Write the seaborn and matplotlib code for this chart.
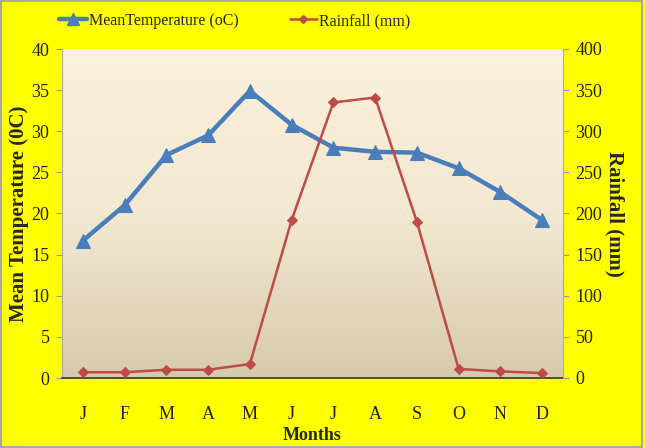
import numpy as np
import pandas as pd
import matplotlib
matplotlib.use("Agg")
import matplotlib.pyplot as plt
import seaborn as sns
from matplotlib.lines import Line2D
from matplotlib.patches import Rectangle
from matplotlib.colors import LinearSegmentedColormap

months = ["J", "F", "M", "A", "M", "J", "J", "A", "S", "O", "N", "D"]
temperature = [16.7, 21.0, 27.1, 29.5, 34.9, 30.8, 28.0, 27.5, 27.4, 25.5, 22.6, 19.2]
rainfall = [7, 7, 10, 10, 17, 192, 335, 341, 190, 11, 8, 6]
temp_label = "MeanTemperature (oC)"
rain_label = "Rainfall (mm)"

sns.set_style("white")
plt.rcParams['font.family'] = ['Liberation Serif', 'DejaVu Serif']

df = pd.DataFrame({"idx": np.arange(len(months)), "month": months,
                   "temp": temperature, "rain": rainfall})

fig = plt.figure(figsize=(6.45, 4.48), dpi=100, facecolor="#FFFF00")
ax = fig.add_axes([62/645, 1-378/448, (563-62)/645, (378-49)/448])
ax.set_facecolor("none")

# gradient background of plot area
cmap = LinearSegmentedColormap.from_list("bg", ["#FBF1DC", "#F3E9D2", "#D6CAAE"])
grad = np.linspace(0, 1, 256).reshape(-1, 1)
ax.imshow(grad, extent=[0, 1, 0, 1], transform=ax.transAxes, cmap=cmap,
          aspect="auto", zorder=0, origin="upper")

blue = "#4A7EBB"
red = "#BE4B48"
sns.lineplot(data=df, x="idx", y="temp", ax=ax, color=blue, linewidth=3.2,
             marker="^", markersize=10, markeredgecolor=blue, zorder=3, legend=False)
ax.set_xlim(-0.5, len(months) - 0.5)
ax.set_ylim(0, 40)
ax.set_yticks(np.arange(0, 41, 5))

ax2 = ax.twinx()
sns.lineplot(data=df, x="idx", y="rain", ax=ax2, color=red, linewidth=1.8,
             marker="D", markersize=5.5, markeredgecolor=red, zorder=3, legend=False)
ax2.set_ylim(0, 400)
ax2.set_yticks(np.arange(0, 401, 50))
ax2.set_xlim(-0.5, len(months) - 0.5)

ax.set_xticks(np.arange(len(months)))
ax.set_xticklabels(months)
ax.set_xticks(np.arange(-0.5, len(months)), minor=True)
ax.tick_params(axis="x", which="major", length=0, labelsize=13, pad=20, labelcolor="#222222")
ax.tick_params(axis="x", which="minor", length=5, color="#333333", direction="out")
ax.tick_params(axis="y", length=4, color="#999999", labelsize=13, labelcolor="#222222", pad=5)
ax2.tick_params(axis="y", length=4, color="#999999", labelsize=13, labelcolor="#222222", pad=5)

ax.set_xlabel("Months", fontsize=13, fontweight="bold", labelpad=3)
ax.set_ylabel("Mean Temperature (0C)", fontsize=15, fontweight="bold", labelpad=2)
ax2.set_ylabel("Rainfall (mm)", fontsize=15, fontweight="bold", rotation=270, labelpad=16)

for a in (ax, ax2):
    a.spines["top"].set_visible(False)
ax.spines["bottom"].set_color("#333333")
ax.spines["bottom"].set_linewidth(1.2)
ax.spines["left"].set_color("#AAAAAA")
ax2.spines["right"].set_color("#AAAAAA")
ax2.spines["left"].set_visible(False)
ax2.spines["bottom"].set_visible(False)
ax.spines["right"].set_visible(False)

handles = [Line2D([0], [0], color=blue, lw=3.2, marker="^", markersize=9),
           Line2D([0], [0], color=red, lw=1.8, marker="D", markersize=4.5)]
fig.legend(handles, [temp_label, rain_label], loc="center left",
           bbox_to_anchor=(45/645, 0.953),
           ncol=2, frameon=False, fontsize=11.5, columnspacing=3.2, handlelength=1.7,
           handletextpad=0.15)

fig.patches.append(Rectangle((0.002, 0.002), 0.993, 0.996, transform=fig.transFigure,
                             fill=False, edgecolor="#A8A8A0", linewidth=1.5))

fig.savefig("out.png", dpi=100, facecolor=fig.get_facecolor())
